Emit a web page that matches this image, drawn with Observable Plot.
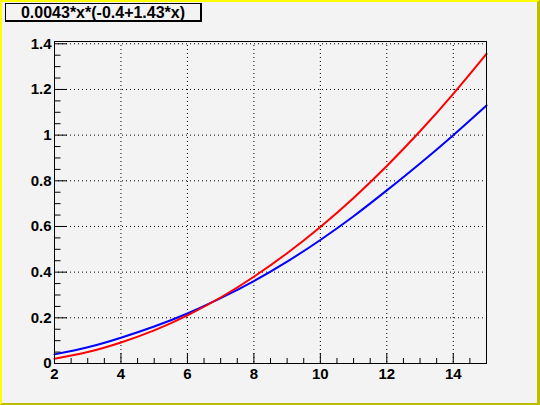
<!DOCTYPE html>
<html>
<head>
<meta charset="utf-8">
<script src="https://cdn.jsdelivr.net/npm/d3@7"></script>
<script src="https://cdn.jsdelivr.net/npm/@observablehq/plot@0.6"></script>
<style>
  html, body { margin: 0; padding: 0; background: #f3f3f3; }
  #wrap { position: relative; width: 540px; height: 405px; background: #f3f3f3; overflow: hidden; }
  #wrap svg { position: absolute; left: 0; top: 0; }
  #title {
    position: absolute; left: 5px; top: 3px; width: 194px; height: 16px;
    border: 1px solid #000; border-right-width: 2px; border-bottom-width: 2px;
    background: #f3f3f3;
    font-family: "Liberation Sans", Arial, sans-serif; font-weight: bold; font-size: 16px;
    line-height: 17px; text-align: center; color: #000; white-space: nowrap;
  }
  #border {
    position: absolute; left: 0; top: 0; width: 540px; height: 405px; box-sizing: border-box;
    border-left: 2px solid #ffff00; border-top: 2px solid #ffff00;
    border-right: 3px solid #bcbc00; border-bottom: 2px solid #bcbc00;
    pointer-events: none;
  }
</style>
</head>
<body>
<div id="wrap">
  <div id="title">0.0043*x*(-0.4+1.43*x)</div>
  <div id="border"></div>
</div>
<script>
// x positions of the sampled points
const xs = [2, 3, 4, 5, 6, 7, 8, 9, 10, 11, 12, 13, 14, 15];
// red curve values
const redValues = [0.021, 0.050, 0.092, 0.145, 0.211, 0.289, 0.380, 0.483, 0.598, 0.725, 0.865, 1.017, 1.181, 1.356];
// blue curve values
const blueValues = [0.040, 0.071, 0.113, 0.162, 0.219, 0.286, 0.361, 0.446, 0.541, 0.645, 0.758, 0.876, 1.000, 1.130];

// tick values
const xMajor = [2, 4, 6, 8, 10, 12, 14];
const xMinor = [2.5, 3, 3.5, 4.5, 5, 5.5, 6.5, 7, 7.5, 8.5, 9, 9.5, 10.5, 11, 11.5, 12.5, 13, 13.5, 14.5, 15];
const yMajor = [0, 0.2, 0.4, 0.6, 0.8, 1, 1.2, 1.4];
const yMinor = [0.05, 0.1, 0.15, 0.25, 0.3, 0.35, 0.45, 0.5, 0.55, 0.65, 0.7, 0.75, 0.85, 0.9, 0.95,
                1.05, 1.1, 1.15, 1.25, 1.3, 1.35];
const xDomain = [2, 15];
const yDomain = [0, 1.41];

const red = xs.map((x, i) => ({x, y: redValues[i]}));
const blue = xs.map((x, i) => ({x, y: blueValues[i]}));

const font = "'Liberation Sans', Arial, sans-serif";
const fs = 15;

const chart = Plot.plot({
  width: 540,
  height: 405,
  marginLeft: 54,
  marginRight: 54,
  marginTop: 41,
  marginBottom: 42,
  x: {domain: xDomain, label: null},
  y: {domain: yDomain, label: null},
  style: {background: "transparent", fontFamily: font, fontWeight: "bold", fontSize: fs + "px", color: "#000"},
  marks: [
    Plot.ruleX(xMajor.filter(d => d > xDomain[0]), {x: d => d, stroke: "#000", strokeDasharray: "1,3"}),
    Plot.ruleY(yMajor.filter(d => d > yDomain[0]), {y: d => d, stroke: "#000", strokeDasharray: "1,3"}),
    Plot.line(blue, {x: "x", y: "y", stroke: "#0000ff", strokeWidth: 2, curve: "natural"}),
    Plot.line(red, {x: "x", y: "y", stroke: "#ff0000", strokeWidth: 2, curve: "natural"}),
    Plot.axisX({ticks: xMajor, tickSize: -10, tickFormat: () => "", label: null, stroke: "#000"}),
    Plot.axisX({ticks: xMinor, tickSize: -5, tickFormat: () => "", label: null, stroke: "#000"}),
    Plot.axisY({ticks: yMajor, tickSize: -13, tickFormat: () => "", label: null, stroke: "#000"}),
    Plot.axisY({ticks: yMinor, tickSize: -6.5, tickFormat: () => "", label: null, stroke: "#000"}),
    Plot.axisX({ticks: xMajor, tickSize: 0, tickPadding: 5, label: null, fontSize: fs, fontWeight: "bold",
                tickFormat: d => String(d)}),
    Plot.axisY({ticks: yMajor, tickSize: 0, tickPadding: 3, label: null, fontSize: fs, fontWeight: "bold",
                tickFormat: d => String(d)}),
    Plot.frame({stroke: "#000"})
  ]
});
document.getElementById("wrap").insertBefore(chart, document.getElementById("title"));
</script>
</body>
</html>
